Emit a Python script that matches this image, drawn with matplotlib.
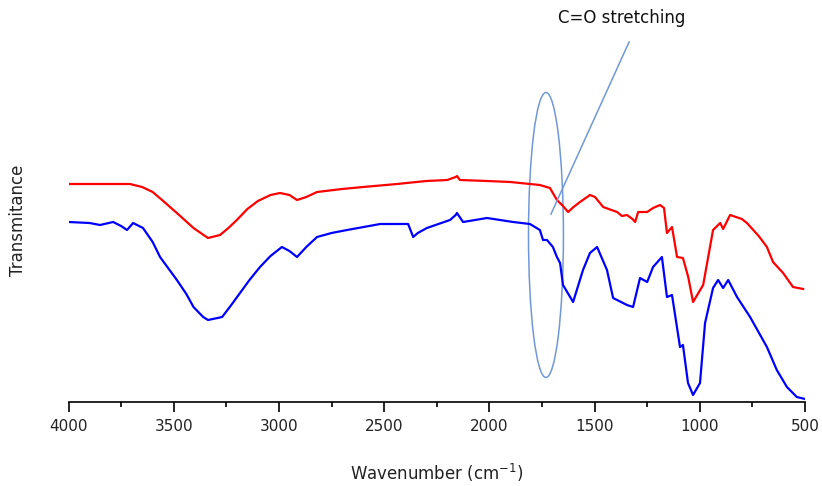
import numpy as np
import matplotlib.pyplot as plt
from matplotlib.patches import Ellipse

# FTIR spectra (wavenumber, transmittance in arbitrary units)
red_wn = [4000, 3708, 3650, 3600, 3550, 3485, 3406, 3337, 3280, 3240, 3200, 3150, 3100,
          3040, 2995, 2950, 2914, 2870, 2819, 2700, 2600, 2439, 2300, 2200, 2160, 2154,
          2140, 2011, 1900, 1807, 1760, 1712, 1679, 1650, 1626, 1600, 1569, 1522, 1498,
          1459, 1420, 1393, 1370, 1346, 1320, 1307, 1293, 1250, 1222, 1189, 1170, 1156,
          1132, 1108, 1080, 1055, 1032, 984, 937, 903, 889, 856, 800, 776, 720, 681,
          652, 604, 557, 509]
red_t = [218, 218, 215, 210, 201, 189, 174, 164, 167, 174, 182, 193, 201,
         207, 209, 207, 202, 205, 210, 213, 215, 218, 221, 222, 225, 226,
         222, 221, 220, 218, 217, 214, 202, 196, 190, 195, 200, 207, 205,
         195, 192, 190, 186, 187, 183, 180, 190, 190, 194, 197, 194, 169,
         175, 145, 144, 125, 100, 117, 172, 179, 173, 187, 183, 179, 166, 155,
         140, 129, 115, 113]

blue_wn = [4000, 3900, 3850, 3788, 3750, 3722, 3693, 3646, 3600, 3565, 3485, 3440, 3406,
           3360, 3337, 3270, 3230, 3185, 3140, 3090, 3040, 2986, 2950, 2914, 2870, 2819,
           2750, 2676, 2519, 2386, 2362, 2340, 2297, 2187, 2160, 2154, 2125, 2011, 1887,
           1807, 1760, 1745, 1726, 1698, 1679, 1664, 1650, 1602, 1555, 1522, 1488, 1441,
           1412, 1346, 1317, 1284, 1250, 1222, 1180, 1156, 1132, 1094, 1080, 1056, 1032,
           999, 975, 937, 913, 889, 865, 823, 761, 681, 634, 586, 539, 500]
blue_t = [180, 179, 177, 180, 176, 172, 179, 174, 160, 145, 122, 108, 95,
          85, 82, 85, 96, 109, 122, 135, 146, 155, 151, 145, 155, 165,
          169, 172, 178, 178, 165, 169, 174, 182, 187, 189, 180, 184, 180,
          178, 172, 162, 162, 155, 145, 139, 117, 100, 132, 149, 155, 132,
          104, 97, 95, 124, 120, 135, 145, 105, 107, 55, 57, 19, 7,
          19, 79, 114, 122, 114, 122, 105, 85, 55, 32, 15, 5, 3]

fig = plt.figure(figsize=(8.22, 4.86), dpi=100)
ax = fig.add_axes([68.5 / 822, (486 - 402) / 486, (805 - 68.5) / 822, 402 / 486])

ax.plot(red_wn, red_t, color="#ff0000", lw=1.6)
ax.plot(blue_wn, blue_t, color="#0000ff", lw=1.6)

# C=O stretching marker
ax.add_patch(Ellipse((1731, 167), 166, 285, fill=False, ec="#7098d8", lw=1.1))
ax.plot([1707, 1336], [188, 360], color="#7098d8", lw=1.1)
ax.text(1370, 384, "C=O stretching", ha="center", va="center", fontsize=12,
        color="#111111")

ax.set_xlim(4000, 500)
ax.set_ylim(0, 402)
ax.set_xticks([4000, 3500, 3000, 2500, 2000, 1500, 1000, 500])
ax.set_xticks(np.arange(3750, 500, -500), minor=True)
ax.set_yticks([])
for s in ("top", "right", "left"):
    ax.spines[s].set_visible(False)
ax.spines["bottom"].set_linewidth(1.2)
ax.tick_params(axis="x", which="major", direction="out", length=7, width=1.2,
               labelsize=11, labelcolor="#222222", pad=5)
ax.tick_params(axis="x", which="minor", direction="out", length=3.5, width=1.2)
ax.set_xlabel("Wavenumber (cm$^{-1}$)", fontsize=12, labelpad=20, color="#222222")
fig.text(18 / 822, 1 - 220 / 486, "Transmitance", rotation=90, ha="center", va="center",
         fontsize=12, color="#222222")

fig.savefig("out.png", dpi=100)
